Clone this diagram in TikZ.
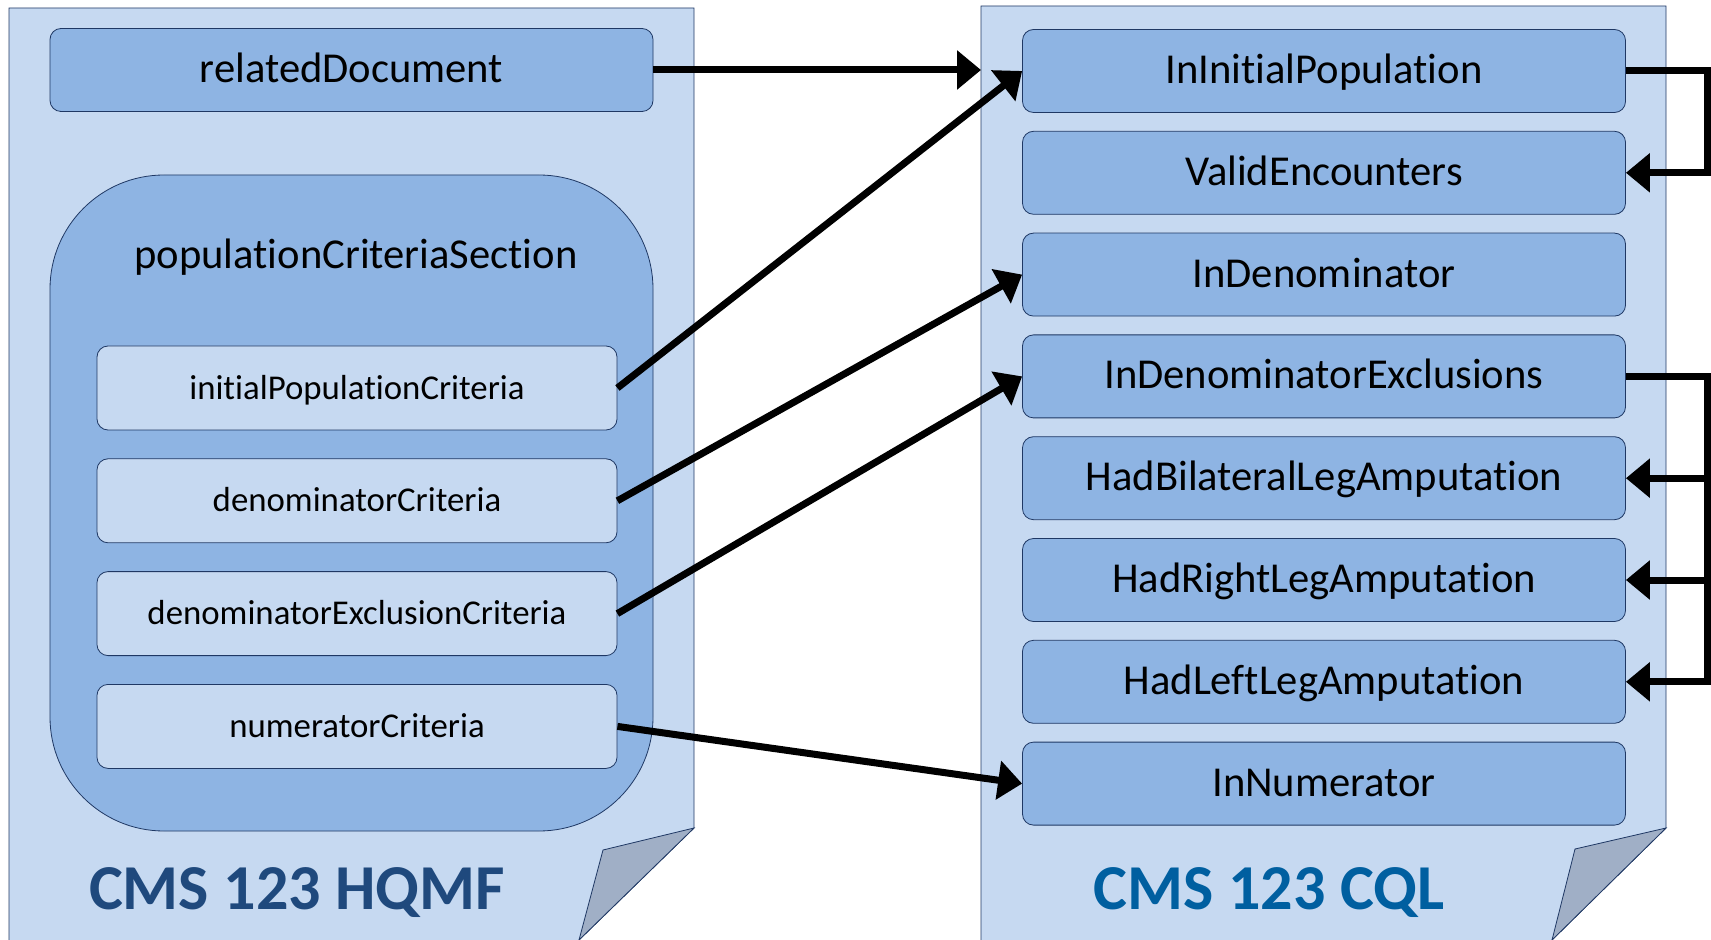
\documentclass[tikz,border=0pt]{standalone}
\usepackage{fontspec}
\setmainfont{Carlito}[Ligatures=NoCommon]
\usetikzlibrary{positioning,arrows.meta}
\definecolor{docfill}{RGB}{198,217,241}
\definecolor{boxfill}{RGB}{142,180,227}
\definecolor{edgecol}{RGB}{31,56,100}
\definecolor{flapfill}{RGB}{160,175,198}
\definecolor{hqmfblue}{RGB}{31,73,125}
\definecolor{cqlblue}{RGB}{0,95,160}

\begin{document}
\begin{tikzpicture}[x=0.5pt,y=-0.5pt,
    bigbox/.style={draw=edgecol,fill=boxfill,rounded corners=5.5pt,minimum width=301.5pt,minimum height=41.5pt,text height=14.5pt,text depth=2pt,font=\fontsize{21.3}{25}\selectfont},
    critbox/.style={draw=edgecol,fill=docfill,rounded corners=5.5pt,minimum width=260pt,minimum height=42pt,text height=12.6pt,text depth=1.5pt,font=\fontsize{17.4}{21}\selectfont},
    doctitle/.style={font=\bfseries\fontsize{32}{38}\selectfont},
    link/.style={line width=3.5pt,-{Triangle[length=12pt,width=19pt]}}]
    \useasboundingbox (0,0) rectangle (1711,940);
    \fill[docfill] (9,8) -- (694,8) -- (694,828) -- (579,940) -- (9,940) -- cycle;
    \draw[edgecol] (9,940) -- (9,8) -- (694,8) -- (694,828) -- (579,940);
    \filldraw[draw=edgecol,fill=flapfill] (694,828) -- (603,850) -- (579,940) -- cycle;
    \fill[docfill] (981,6) -- (1666,6) -- (1666,828) -- (1552,940) -- (981,940) -- cycle;
    \draw[edgecol] (981,940) -- (981,6) -- (1666,6) -- (1666,828) -- (1552,940);
    \filldraw[draw=edgecol,fill=flapfill] (1666,828) -- (1575,849) -- (1552,940) -- cycle;
    \coordinate (cqledge) at (981,70);
    \coordinate (loopx) at (1707,0);

    \node[bigbox] (related) at (351.5,70) {relatedDocument};
    \node[draw=edgecol,fill=boxfill,rounded corners=57pt,minimum width=301.5pt,minimum height=328pt] (section) at (351.5,503) {};
    \node[font=\fontsize{21.3}{25}\selectfont] (sectiontitle) at (356,257) {populationCriteriaSection};
    \node[critbox] (initpop) at (357,388) {initialPopulationCriteria};
    \node[critbox,below=14pt of initpop] (denom) {denominatorCriteria};
    \node[critbox,below=14pt of denom] (denomexcl) {denominatorExclusionCriteria};
    \node[critbox,below=14pt of denomexcl] (numer) {numeratorCriteria};
    \node[doctitle,text=hqmfblue] (hqmftitle) at (297,893) {CMS 123 HQMF};

    \node[bigbox] (cqlinitial) at (1324,71) {InInitialPopulation};
    \node[bigbox,below=9pt of cqlinitial] (cqlvalid) {ValidEncounters};
    \node[bigbox,below=9pt of cqlvalid] (cqldenom) {InDenominator};
    \node[bigbox,below=9pt of cqldenom] (cqlexcl) {InDenominatorExclusions};
    \node[bigbox,below=9pt of cqlexcl] (cqlbilat) {HadBilateralLegAmputation};
    \node[bigbox,below=9pt of cqlbilat] (cqlright) {HadRightLegAmputation};
    \node[bigbox,below=9pt of cqlright] (cqlleft) {HadLeftLegAmputation};
    \node[bigbox,below=9pt of cqlleft] (cqlnumer) {InNumerator};
    \node[doctitle,text=cqlblue] (cqltitle) at (1269,893) {CMS 123 CQL};

    \draw[link] (related.east) -- (related.east -| cqledge);
    \draw[link] (initpop.east) -- (cqlinitial.west);
    \draw[link] (denom.east) -- (cqldenom.west);
    \draw[link] (denomexcl.east) -- (cqlexcl.west);
    \draw[link] (numer.east) -- (cqlnumer.west);
    \draw[link] (cqlinitial.east) -- (cqlinitial.east -| loopx) |- (cqlvalid.east);
    \draw[link] (cqlexcl.east) -| (loopx |- cqlleft.east) -- (cqlleft.east);
    \foreach \n in {cqlbilat,cqlright} {
        \draw[link] (loopx |- \n.east) -- (\n.east);
    }
\end{tikzpicture}
\end{document}
